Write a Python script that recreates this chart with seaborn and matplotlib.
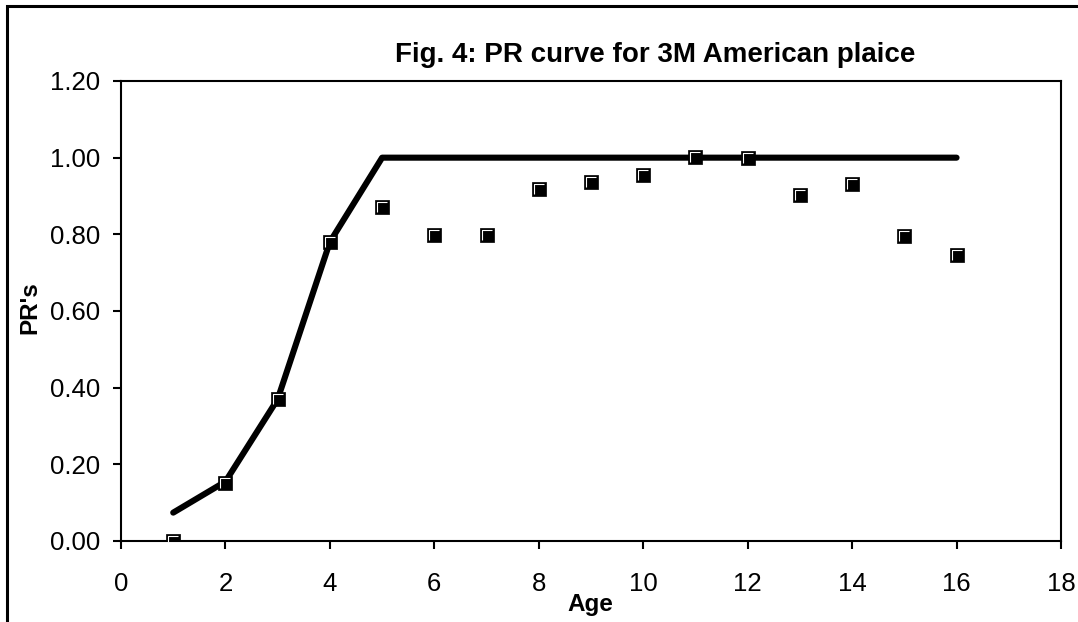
import numpy as np
import pandas as pd
import seaborn as sns
import matplotlib.pyplot as plt
from matplotlib.path import Path
from matplotlib.patches import Rectangle

# fitted PR curve (line) and observed PR's (points) by age
ages = [1, 2, 3, 4, 5, 6, 7, 8, 9, 10, 11, 12, 13, 14, 15, 16]
pr_fit = [0.074, 0.155, 0.37, 0.78, 1.0, 1.0, 1.0, 1.0, 1.0, 1.0, 1.0, 1.0, 1.0, 1.0, 1.0, 1.0]
pr_obs = [0.0, 0.152, 0.37, 0.779, 0.871, 0.798, 0.798, 0.919, 0.937, 0.956, 1.003, 1.0, 0.903, 0.931, 0.795, 0.746]

x_ticks = list(range(0, 19, 2))
y_ticks = [0.0, 0.2, 0.4, 0.6, 0.8, 1.0, 1.2]

df = pd.DataFrame({"Age": ages, "fit": pr_fit, "obs": pr_obs})

sns.set_style("white")
plt.rcParams["font.family"] = ["Liberation Sans", "DejaVu Sans"]
plt.rcParams["text.color"] = "black"

fig = plt.figure(figsize=(10.78, 6.22), dpi=100)
ax = fig.add_axes([121 / 1078, 1 - 541 / 622, 940 / 1078, 460 / 622])

sns.lineplot(data=df, x="Age", y="fit", ax=ax, color="black", linewidth=4.4,
             solid_capstyle="round", zorder=2)
sns.scatterplot(data=df, x="Age", y="obs", ax=ax, marker="s", s=9.8 ** 2,
                color="black", edgecolor="black", linewidth=0.5, zorder=3)

# white highlight on the upper-left inside of each marker (Excel style)
corner = Path([(-1, -1), (-1, 1), (1, 1)], [Path.MOVETO, Path.LINETO, Path.LINETO])
ax.plot(df["Age"], df["obs"], linestyle="none", marker=corner, markersize=6.6,
        markerfacecolor="none", markeredgecolor="white", markeredgewidth=0.8, zorder=4)

ax.set_xlim(0, 18)
ax.set_ylim(0, 1.2)
ax.set_xticks(x_ticks)
ax.set_yticks(y_ticks)
ax.set_yticklabels([f"{v:.2f}" for v in y_ticks])
ax.tick_params(axis="both", direction="out", length=6, width=1.5, labelsize=18.5,
               color="black", labelcolor="black", top=False, right=False,
               bottom=True, left=True)
ax.tick_params(axis="x", pad=16)
ax.tick_params(axis="y", pad=9)
for sp in ax.spines.values():
    sp.set_visible(True)
    sp.set_color("black")
    sp.set_linewidth(1.5)

ax.set_xlabel("")
ax.set_ylabel("")
fig.text(590 / 1078, 1 - 605 / 622, "Age", ha="center", va="center",
         fontsize=17.5, fontweight="bold", color="black")
fig.text(30 / 1078, 1 - 308 / 622, "PR's", ha="center", va="center",
         rotation=90, fontsize=17.5, fontweight="bold", color="black")
fig.text(655 / 1078, 1 - 55 / 622, "Fig. 4: PR curve for 3M American plaice",
         ha="center", va="center", fontsize=20, fontweight="bold", color="black")

# outer chart-area border (clipped at right and bottom in the original)
fig.patches.append(Rectangle((7 / 1078, -0.1), 1.2, 1 - 6 / 622 + 0.1,
                             transform=fig.transFigure, fill=False,
                             edgecolor="black", linewidth=2.2))

fig.savefig("out.png", dpi=100)
